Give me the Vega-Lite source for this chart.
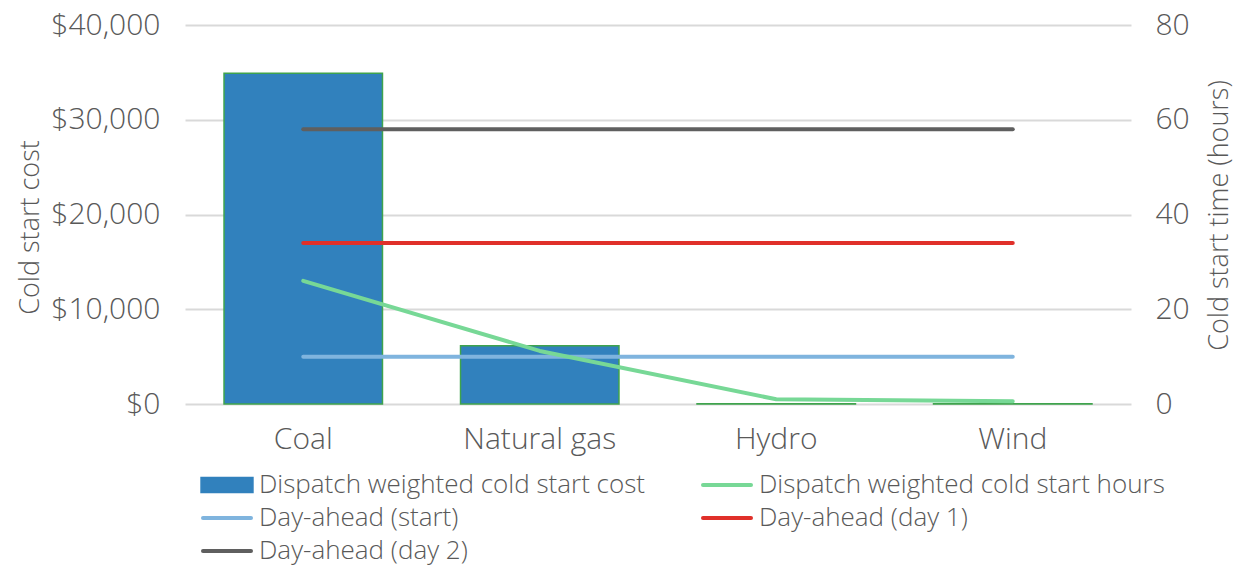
{
  "$schema": "https://vega.github.io/schema/vega-lite/v6.json",
  "width": 946,
  "height": 379,
  "autosize": {"type": "none"},
  "padding": {"left": 185, "top": 25, "right": 111, "bottom": 163},
  "background": "white",
  "config": {
    "font": "Open Sans",
    "view": {"stroke": null},
    "axis": {"labelFont": "Open Sans", "titleFont": "Open Sans", "labelColor": "#595959", "titleColor": "#595959", "labelFontSize": 30, "titleFontSize": 27, "labelFontWeight": 300, "titleFontWeight": 300, "ticks": false, "domain": false}
  },
  "datasets": {
    "cost": [
      {"category": "Coal", "series": "Dispatch weighted cold start cost", "cost": 34900},
      {"category": "Natural gas", "series": "Dispatch weighted cold start cost", "cost": 6150},
      {"category": "Hydro", "series": "Dispatch weighted cold start cost", "cost": 30},
      {"category": "Wind", "series": "Dispatch weighted cold start cost", "cost": 30}
    ],
    "hours": [
      {"category": "Coal", "series": "Day-ahead (day 2)", "hours": 58},
      {"category": "Natural gas", "series": "Day-ahead (day 2)", "hours": 58},
      {"category": "Hydro", "series": "Day-ahead (day 2)", "hours": 58},
      {"category": "Wind", "series": "Day-ahead (day 2)", "hours": 58},
      {"category": "Coal", "series": "Day-ahead (day 1)", "hours": 34},
      {"category": "Natural gas", "series": "Day-ahead (day 1)", "hours": 34},
      {"category": "Hydro", "series": "Day-ahead (day 1)", "hours": 34},
      {"category": "Wind", "series": "Day-ahead (day 1)", "hours": 34},
      {"category": "Coal", "series": "Day-ahead (start)", "hours": 10},
      {"category": "Natural gas", "series": "Day-ahead (start)", "hours": 10},
      {"category": "Hydro", "series": "Day-ahead (start)", "hours": 10},
      {"category": "Wind", "series": "Day-ahead (start)", "hours": 10},
      {"category": "Coal", "series": "Dispatch weighted cold start hours", "hours": 26},
      {"category": "Natural gas", "series": "Dispatch weighted cold start hours", "hours": 11.2},
      {"category": "Hydro", "series": "Dispatch weighted cold start hours", "hours": 1},
      {"category": "Wind", "series": "Dispatch weighted cold start hours", "hours": 0.6}
    ]
  },
  "encoding": {
    "x": {
      "field": "category", "type": "nominal", "sort": ["Coal", "Natural gas", "Hydro", "Wind"],
      "scale": {"paddingInner": 0.33, "paddingOuter": 0.165},
      "axis": {"title": null, "labelAngle": 0, "labelPadding": 20, "grid": false}
    },
    "color": {
      "field": "series", "type": "nominal",
      "scale": {
        "domain": ["Dispatch weighted cold start cost", "Dispatch weighted cold start hours", "Day-ahead (start)", "Day-ahead (day 1)", "Day-ahead (day 2)"],
        "range": ["#3181bd", "#77d896", "#7fb4de", "#e0302a", "#5f5f5f"]
      },
      "legend": {
        "title": null, "orient": "none", "legendX": 29, "legendY": 447, "direction": "horizontal", "columns": 2, "columnPadding": 49, "rowPadding": 7,
        "labelFont": "Open Sans", "labelFontSize": 26, "labelFontWeight": 300, "labelColor": "#595959", "labelLimit": 600, "labelOffset": 19,
        "symbolSize": 900, "symbolType": "M-1.6,0H1.6", "symbolStrokeWidth": 4,
        "encode": {
          "symbols": {
            "update": {
              "shape": {"signal": "datum.value === 'Dispatch weighted cold start cost' ? 'M-1.73,-0.5H1.73V0.5H-1.73Z' : 'M-1.6,0H1.6'"},
              "fill": {"signal": "datum.value === 'Dispatch weighted cold start cost' ? '#3181bd' : 'transparent'"},
              "stroke": {"signal": "datum.value === 'Dispatch weighted cold start cost' ? '#3fa34d' : scale('color', datum.value)"},
              "strokeWidth": {"signal": "datum.value === 'Dispatch weighted cold start cost' ? 1.5 : 4"},
              "strokeCap": {"value": "round"},
              "opacity": {"value": 1}
            }
          }
        }
      }
    }
  },
  "layer": [
    {
      "data": {"name": "cost"},
      "mark": {"type": "bar", "stroke": "#3fa34d", "strokeWidth": 1.5},
      "encoding": {
        "y": {
          "field": "cost", "type": "quantitative",
          "scale": {"domain": [0, 40000]},
          "axis": {"title": "Cold start cost", "format": "$,.0f", "values": [0, 10000, 20000, 30000, 40000], "labelPadding": 25, "grid": true, "gridColor": "#d9d9d9", "gridWidth": 2, "titleX": -155, "titleY": 202, "titleAngle": 270, "titleAlign": "center", "titleBaseline": "middle"}
        }
      }
    },
    {
      "data": {"name": "hours"},
      "mark": {"type": "line", "strokeWidth": 4, "strokeCap": "round", "strokeJoin": "round"},
      "encoding": {
        "y": {
          "field": "hours", "type": "quantitative",
          "scale": {"domain": [0, 80]},
          "axis": {"orient": "right", "title": "Cold start time (hours)", "values": [0, 20, 40, 60, 80], "labelPadding": 24, "grid": false, "titleX": 88, "titleY": 190, "titleAngle": 270, "titleAlign": "center", "titleBaseline": "middle"}
        },
        "detail": {"field": "series"}
      }
    }
  ],
  "resolve": {"scale": {"y": "independent"}}
}
